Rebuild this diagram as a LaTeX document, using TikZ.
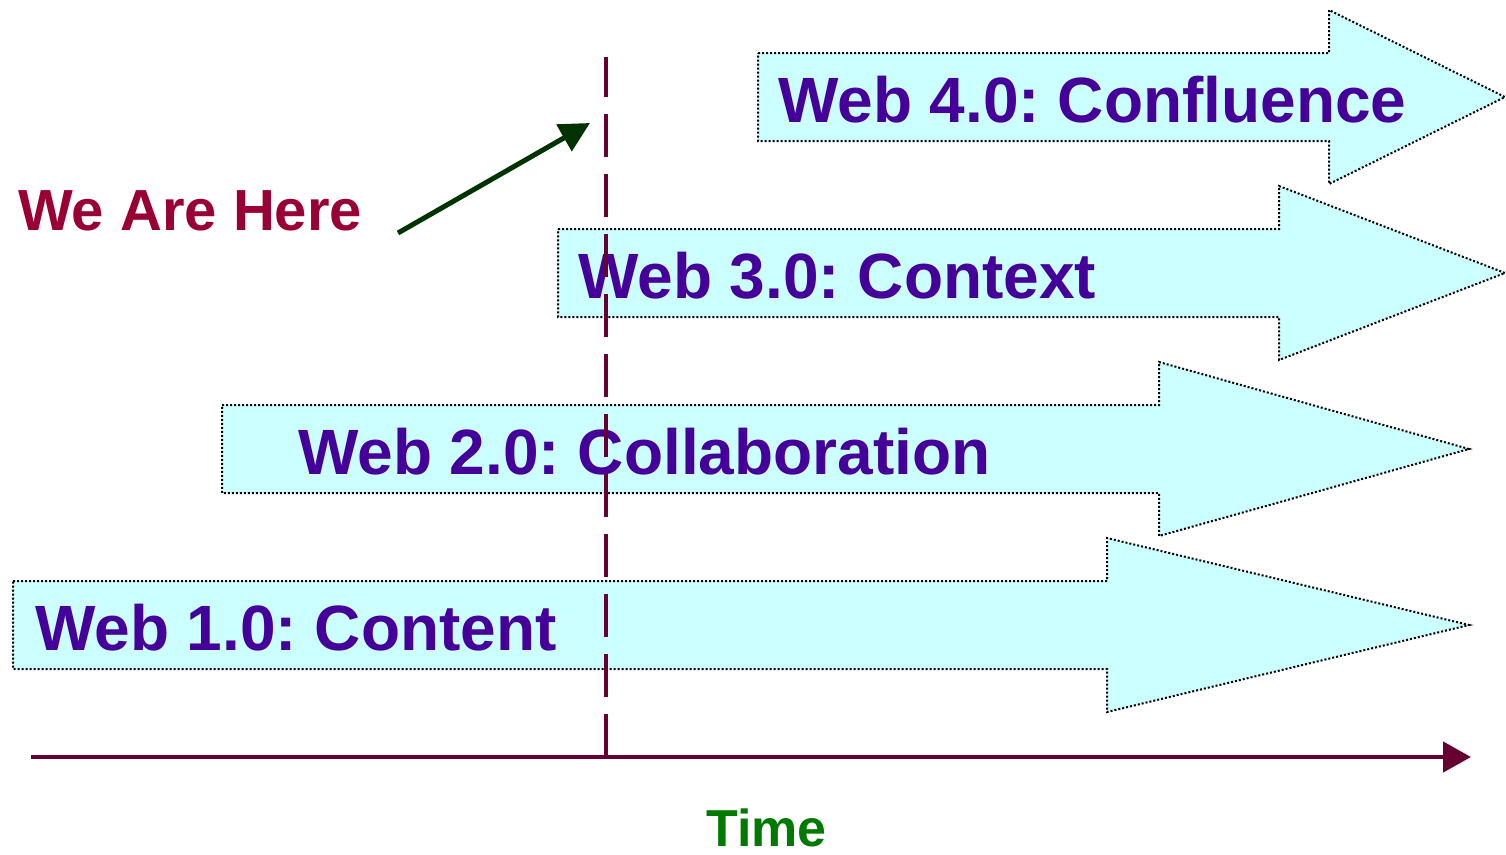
\documentclass[tikz,border=0pt]{standalone}
\usepackage{fontspec}
\setmainfont{Liberation Sans}
\usetikzlibrary{arrows.meta}
\frenchspacing

\definecolor{bandfill}{HTML}{CCFFFF}
\definecolor{bandtext}{HTML}{440099}
\definecolor{timeline}{HTML}{660033}
\definecolor{heretext}{HTML}{990033}
\definecolor{herearrow}{HTML}{003300}
\definecolor{timetext}{HTML}{007A00}

\tikzset{
  band/.style={fill=bandfill, draw=black, line width=2pt,
               dash pattern=on 2pt off 2pt, line join=miter},
  bandlabel/.style={anchor=base west, inner sep=0pt, text=bandtext,
               font=\fontsize{64}{70}\selectfont\bfseries},
  axisline/.style={draw=timeline, line width=4.5pt,
               -{Triangle[length=28pt,width=30pt]}},
  nowline/.style={draw=timeline, line width=4.5pt, dash pattern=on 43pt off 17pt},
  herelabel/.style={anchor=base west, inner sep=0pt, text=heretext,
               font=\fontsize{58}{64}\selectfont\bfseries},
  herepointer/.style={draw=herearrow, line width=5pt,
               -{Triangle[length=30pt,width=30pt]}},
  timelabel/.style={anchor=base west, inner sep=0pt, text=timetext,
               font=\fontsize{52}{58}\selectfont\bfseries}
}

% block arrow: #1 left x, #2 head start x, #3 tip x, #4 centre y
\newcommand{\blockarrow}[4]{%
  \path[band] (#1,#4-44) -- (#2,#4-44) -- (#2,#4-87) -- (#3,#4)
    -- (#2,#4+87) -- (#2,#4+44) -- (#1,#4+44) -- cycle;}

\begin{document}
\begin{tikzpicture}[x=1pt,y=-1pt]
  \useasboundingbox (0,0) rectangle (1506,854);

  % the four eras
  \blockarrow{758}{1329}{1505}{97}
  \blockarrow{558}{1279}{1505}{273}
  \blockarrow{222}{1159}{1469}{449}
  \blockarrow{13}{1107}{1469}{625}

  \node[bandlabel] (web4) at (778,122) {Web 4.0: Confluence};
  \node[bandlabel] (web3) at (578,298) {Web 3.0: Context};
  \node[bandlabel] (web2) at (298,474) {Web 2.0: Collaboration};
  \node[bandlabel] (web1) at (35,650) {Web 1.0: Content};

  % time axis
  \coordinate (axis-start) at (31,757);
  \coordinate (axis-end) at (1471,757);
  \draw[axisline] (axis-start) -- (axis-end);
  \node[timelabel] (time) at (706,846) {Time};

  % present moment marker
  \coordinate (now-bottom) at (606,757);
  \coordinate (now-top) at (606,57);
  \draw[nowline] (now-bottom) -- (now-top);

  \node[herelabel] (here) at (18,230) {We Are Here};
  \coordinate (here-tail) at (398,233);
  \coordinate (here-tip) at (590,123);
  \draw[herepointer] (here-tail) -- (here-tip);
\end{tikzpicture}
\end{document}
